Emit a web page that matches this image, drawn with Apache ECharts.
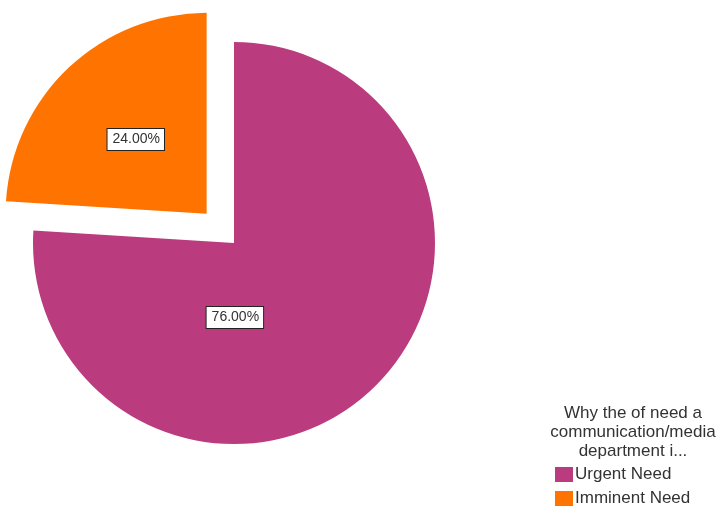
<!DOCTYPE html>
<html>
<head>
<meta charset="utf-8">
<script src="https://cdn.jsdelivr.net/npm/echarts@6/dist/echarts.min.js"></script>
<style>html,body{margin:0;padding:0;background:#fff;}#c{width:720px;height:510px;}</style>
</head>
<body>
<div id="c"></div>
<script>
var categories = ['Urgent Need', 'Imminent Need'];
var values = [76.00, 24.00];
var colors = ['#BA3B7E', '#FF7300'];
var legendTitle = 'Why the of need a\ncommunication/media\ndepartment i...';

var chart = echarts.init(document.getElementById('c'), null, {renderer: 'canvas'});
var data = categories.map(function (c, i) {
  return {name: c, value: values[i], selected: i === 1, itemStyle: {color: colors[i]}};
});
var legends = categories.map(function (c, i) {
  return {
    orient: 'vertical',
    left: 550,
    top: 461 + i * 24,
    icon: 'rect',
    itemWidth: 18,
    itemHeight: 15,
    selectedMode: false,
    textStyle: {fontFamily: 'Liberation Sans', fontSize: 17, color: '#333333', padding: [0,0,0,-3]},
    data: [c]
  };
});
chart.setOption({
  animation: false,
  backgroundColor: '#ffffff',
  title: {
    text: legendTitle,
    left: 628,
    top: 399,
    textAlign: 'center',
    textStyle: {fontFamily: 'Liberation Sans', fontSize: 17, fontWeight: 'normal', color: '#333333', lineHeight: 19}
  },
  legend: legends,
  series: [{
    type: 'pie',
    center: [234, 243],
    radius: 201,
    startAngle: 90,
    clockwise: true,
    selectedMode: 'single',
    selectedOffset: 40,
    emphasis: {disabled: true},
    label: {
      show: true,
      position: 'inside',
      formatter: function (p) { return p.value.toFixed(2) + '%'; },
      fontFamily: 'Liberation Sans',
      fontSize: 14,
      color: '#333333',
      backgroundColor: '#ffffff',
      borderColor: '#222222',
      borderWidth: 1,
      padding: [4, 4, 3, 5]
    },
    labelLayout: function (p) {
      if (p.dataIndex === 0) { return {dx: -70, dy: -1}; }
      return {dy: 1};
    },
    labelLine: {show: false},
    data: data
  }]
});
</script>
</body>
</html>
